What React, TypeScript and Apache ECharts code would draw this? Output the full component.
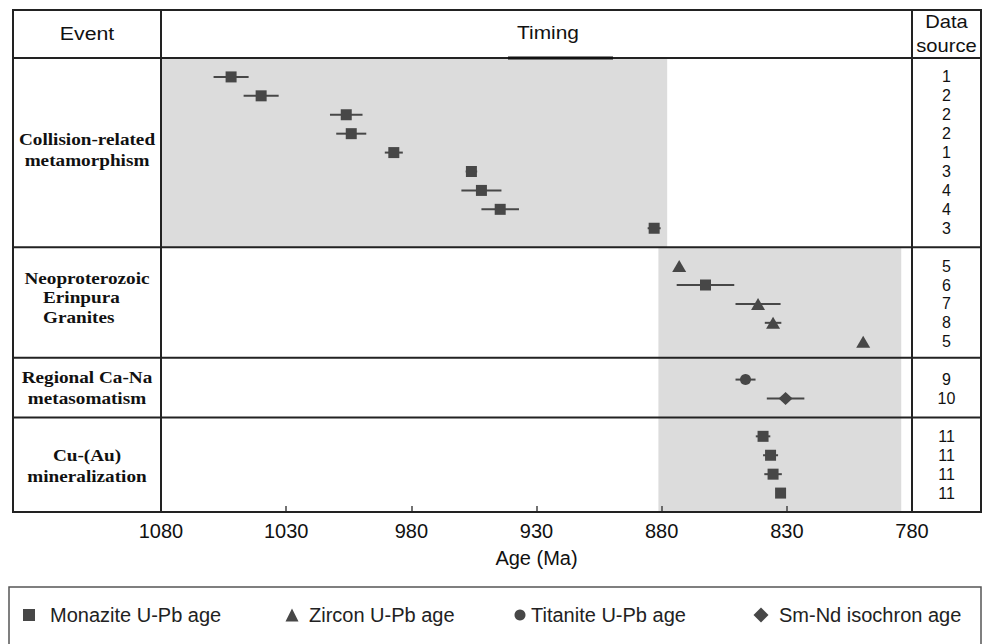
import React, { useEffect, useRef } from "react";
import * as echarts from "echarts";

// ---------- data ----------
const eventLines = [
  ["Collision-related", "metamorphism"],
  ["Neoproterozoic", "Erinpura", "Granites"],
  ["Regional Ca-Na", "metasomatism"],
  ["Cu-(Au)", "mineralization"],
];
// row slots bounding each event section (top to bottom)
const sectionBounds = [0, 10, 15.85, 19, 24];

const methodNames = ["Monazite U-Pb age", "Zircon U-Pb age", "Titanite U-Pb age", "Sm-Nd isochron age"];

const ages = [1052, 1040, 1006, 1004, 987, 956, 952, 944.5, 883, 873, 862.5, 841.5, 835.5, 799.5, 846.5, 830.5, 839.5, 836.5, 835.5, 832.5];
const errors = [7, 7, 6.5, 6, 3.6, 2.3, 8, 7.5, 2.6, 0, 11.5, 9, 3.3, 0, 4, 7.5, 2.9, 3, 3.5, 0];
const methods = [0, 0, 0, 0, 0, 0, 0, 0, 0, 1, 0, 1, 1, 1, 2, 3, 0, 0, 0, 0];
const sources = [1, 2, 2, 2, 1, 3, 4, 4, 3, 5, 6, 7, 8, 5, 9, 10, 11, 11, 11, 11];
const rows = [1, 2, 3, 4, 5, 6, 7, 8, 9, 11, 12, 13, 14, 15, 17, 18, 20, 21, 22, 23];

const shadeStart = [1080, 881.3];
const shadeEnd = [877.8, 784.3];
const shadeTop = [0, 10];
const shadeBottom = [10, 24];

const ageMin = 780;
const ageMax = 1080;
const ageStep = 50;

// ---------- styles / layout ----------
const FG = "#222";
const MARK = "#474747";
const SANS = "Liberation Sans";
const SERIF = "Liberation Serif";
const methodSymbols = ["rect", "triangle", "circle", "diamond"];
const symbolSizes: any[] = [11, [14, 12], 11, [14, 13]];
const legendIconCenter = [29, 292, 520, 761];
const legendIconSize = [12, 13, 11, 15];
const legendTextStart = [50, 309, 531, 779];
const eventDy = [-3, -5, 0, 1];

export default function App() {
  const ref = useRef<HTMLDivElement>(null);

  useEffect(() => {
    const chart = echarts.init(ref.current!, null, { renderer: "svg" });

    const series: any[] = [];
    series.push({
      type: "line",
      name: "shade",
      data: [],
      silent: true,
      z: 1,
      markArea: {
        silent: true,
        itemStyle: { color: "#dcdcdc" },
        data: shadeStart.map((s, i) => [
          { coord: [s, shadeTop[i]] },
          { coord: [shadeEnd[i], shadeBottom[i]] },
        ]),
      },
    });
    series.push({
      type: "custom",
      name: "error",
      silent: true,
      z: 3,
      data: ages.map((a, i) => [a - errors[i], a + errors[i], rows[i]]),
      encode: { x: [0, 1], y: 2 },
      renderItem: (_p: any, api: any) => {
        const lo = api.coord([api.value(0), api.value(2)]);
        const hi = api.coord([api.value(1), api.value(2)]);
        return {
          type: "line",
          shape: { x1: lo[0], y1: lo[1], x2: hi[0], y2: hi[1] },
          style: { stroke: MARK, lineWidth: 2 },
        };
      },
    });
    methodNames.forEach((name, m) => {
      series.push({
        type: "scatter",
        name,
        symbol: methodSymbols[m],
        symbolSize: symbolSizes[m],
        z: 4,
        silent: true,
        itemStyle: { color: MARK, opacity: 1 },
        data: ages
          .map((a, i) => (methods[i] === m ? [a, rows[i]] : null))
          .filter((d) => d !== null),
      });
    });

    chart.setOption({
      animation: false,
      grid: { left: 161, right: 75, top: 58, bottom: 132 },
      xAxis: {
        type: "value",
        inverse: true,
        min: ageMin,
        max: ageMax,
        interval: ageStep,
        position: "bottom",
        z: 6,
        axisLine: { show: true, onZero: false, lineStyle: { color: FG, width: 2 } },
        axisTick: { show: true, inside: true, length: 6, lineStyle: { color: "#444", width: 1.5 } },
        axisLabel: { fontFamily: SANS, fontSize: 20, color: "#111", margin: 9, formatter: (v: number) => String(v) },
        splitLine: { show: false },
        name: "Age (Ma)",
        nameLocation: "middle",
        nameGap: 36,
        nameTextStyle: { fontFamily: SANS, fontSize: 20, color: "#111" },
      },
      yAxis: { type: "value", inverse: true, min: sectionBounds[0], max: sectionBounds[sectionBounds.length - 1], show: false },
      legend: methodNames.map((name, i) => {
        const w = legendIconSize[i];
        const left = legendIconCenter[i] - w / 2;
        return {
          data: [name],
          left,
          top: 605,
          padding: 0,
          itemWidth: w,
          itemHeight: w,
          selectedMode: false,
          textStyle: {
            fontFamily: SANS,
            fontSize: 20,
            color: "#222",
            padding: [0, 0, 0, Math.max(0, legendTextStart[i] - (left + w + 5))],
          },
        };
      }),
      series,
    });

    const xPix = (age: number) => (chart.convertToPixel({ xAxisIndex: 0 }, age) as number);
    const yPix = (row: number) => (chart.convertToPixel({ yAxisIndex: 0 }, row) as number);

    const left = 13;
    const right = 981;
    const top = 10;
    const gx0 = xPix(ageMax);
    const gx1 = xPix(ageMin);
    const gy0 = yPix(sectionBounds[0]);
    const gyB = yPix(sectionBounds[sectionBounds.length - 1]);
    const lineStyle = { stroke: FG, lineWidth: 2 };

    const txt = (text: string, x: number, y: number, size: number, opts: any = {}) => ({
      type: "text",
      x,
      y,
      scaleX: opts.scaleX ?? 1,
      z: 110,
      silent: true,
      style: {
        text,
        fontFamily: opts.family ?? SANS,
        fontSize: size,
        fontWeight: opts.weight ?? "normal",
        fill: "#111",
        textAlign: opts.align ?? "center",
        align: opts.align ?? "center",
        textVerticalAlign: "middle",
        verticalAlign: "middle",
      },
    });

    const g: any[] = [];
    g.push({ type: "rect", z: 100, silent: true, shape: { x: left, y: top, width: right - left, height: gyB - top }, style: { fill: "none", ...lineStyle } });
    g.push({ type: "line", z: 100, silent: true, shape: { x1: gx0, y1: top, x2: gx0, y2: gyB }, style: lineStyle });
    g.push({ type: "line", z: 100, silent: true, shape: { x1: gx1, y1: top, x2: gx1, y2: gyB }, style: lineStyle });
    sectionBounds.slice(0, -1).forEach((b) => {
      const y = yPix(b);
      g.push({ type: "line", z: 100, silent: true, shape: { x1: left, y1: y, x2: right, y2: y }, style: lineStyle });
    });
    g.push({ type: "line", z: 101, silent: true, shape: { x1: 508, y1: gy0, x2: 613, y2: gy0 }, style: { stroke: "#111", lineWidth: 3 } });

    // header
    const hy = (top + gy0) / 2;
    g.push(txt("Event", (left + gx0) / 2, hy - 1, 19, { scaleX: 1.12 }));
    g.push(txt("Timing", 548, hy - 2, 19, { scaleX: 1.1 }));
    g.push(txt("Data", (gx1 + right) / 2, hy - 12, 18, { scaleX: 1.12 }));
    g.push(txt("source", (gx1 + right) / 2, hy + 12, 18, { scaleX: 1.12 }));

    // event labels
    eventLines.forEach((lines, s) => {
      const cy = (yPix(sectionBounds[s]) + yPix(sectionBounds[s + 1])) / 2 + eventDy[s];
      const lh = lines.length > 2 ? 19.5 : 21;
      lines.forEach((line, k) => {
        const y = cy + (k - (lines.length - 1) / 2) * lh;
        const leftAligned = lines.length > 2 && k > 0;
        g.push(
          txt(line, leftAligned ? 43 : 87, y, 17, {
            family: SERIF,
            weight: "bold",
            scaleX: 1.13,
            align: leftAligned ? "left" : "center",
          })
        );
      });
    });

    // data sources
    sources.forEach((src, i) => {
      g.push(txt(String(src), (gx1 + right) / 2, yPix(rows[i]), 16));
    });

    // legend box
    g.push({ type: "rect", z: 100, silent: true, shape: { x: 9, y: 587, width: 972, height: 70 }, style: { fill: "none", stroke: "#555", lineWidth: 1.5 } });

    chart.setOption({ graphic: g });

    return () => chart.dispose();
  }, []);

  return (
    <div
      ref={ref}
      style={{ position: "fixed", left: 0, top: 0, width: 987, height: 644, background: "#fff" }}
    />
  );
}
